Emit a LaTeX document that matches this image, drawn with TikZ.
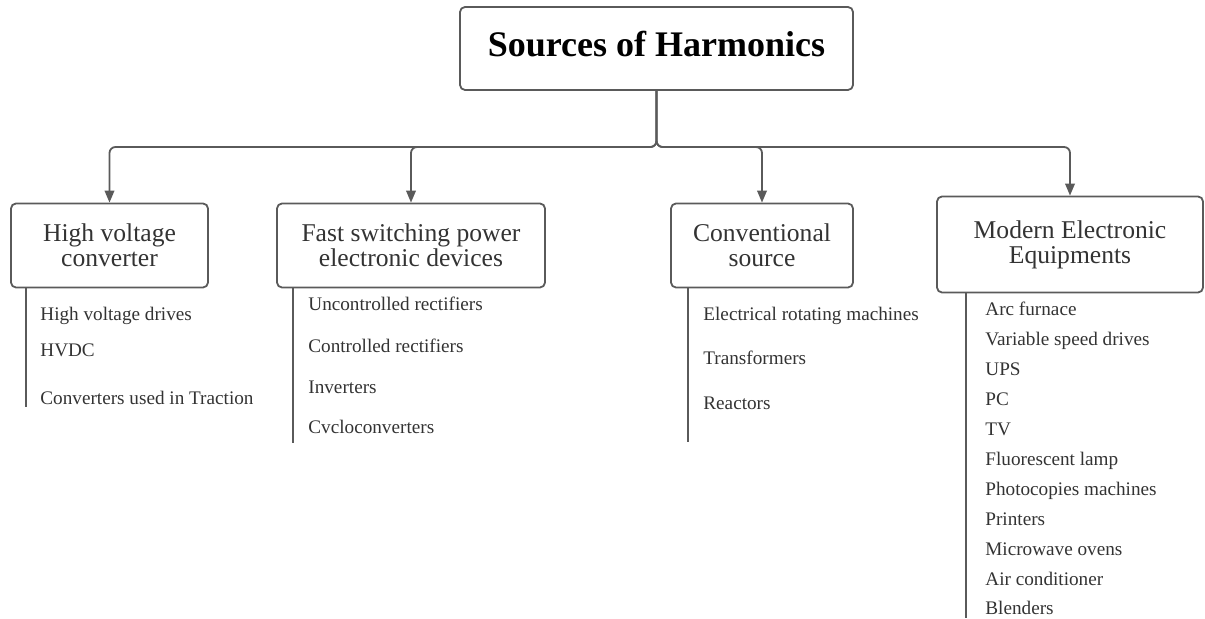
\documentclass[tikz,border=0pt]{standalone}
\usepackage{fontspec}
\setmainfont{Liberation Serif}
\usetikzlibrary{arrows.meta}
\usetikzlibrary{calc}

\definecolor{linegray}{HTML}{5A5A5A}
\definecolor{textgray}{HTML}{333333}

\begin{document}
\begin{tikzpicture}[x=0.5pt, y=-0.5pt, line join=round,
        title_style/.style={draw=linegray, line width=0.9pt, rounded corners=2.5pt, minimum width=196.5pt, minimum height=41.5pt, font=\fontsize{18}{20}\selectfont\bfseries, text=black, text depth=5pt},
        box_style/.style={draw=linegray, line width=0.9pt, rounded corners=2.5pt, align=center, text=textgray, font=\fontsize{12.8}{12.5}\selectfont, inner sep=0pt},
        item_style/.style={anchor=base west, inner sep=0pt, text=textgray, font=\fontsize{9.6}{11}\selectfont},
        edge_style/.style={draw=linegray, line width=0.9pt, rounded corners=3pt, -{Triangle[length=6pt,width=4.8pt]}},
        rail_style/.style={draw=linegray, line width=0.9pt}]

        \useasboundingbox (0,0) rectangle (1205,619);

        \node [title_style](n0) at (656.5,48.5) {Sources of Harmonics};

        \node [box_style, minimum width=98.5pt, minimum height=42pt](n1) at (109.5,245.5) {High voltage\\converter};

        \node [box_style, minimum width=134pt, minimum height=42pt](n2) at (411,245.5) {Fast switching power\\electronic devices};

        \node [box_style, minimum width=91pt, minimum height=42pt](n3) at (762,245.5) {Conventional\\source};

        \node [box_style, minimum width=133pt, minimum height=48pt](n4) at (1070,244.5) {Modern Electronic\\Equipments};

        \coordinate (hub) at (656.5,147);

        \draw [edge_style] (n0.south) -- (hub) -| (n1.north);

        \draw [edge_style] (n0.south) -- (hub) -| (n2.north);

        \draw [edge_style] (n0.south) -- (hub) -| (n3.north);

        \draw [edge_style] (n0.south) -- (hub) -| (n4.north);

        % item rails
        \coordinate (r1) at (26,407);
        \coordinate (r2) at (293,443);
        \coordinate (r3) at (688,442);
        \coordinate (r4) at (966,618);

        \draw [rail_style] (n1.south -| r1) -- (r1);
        \draw [rail_style] (n2.south -| r2) -- (r2);
        \draw [rail_style] (n3.south -| r3) -- (r3);
        \draw [rail_style] (n4.south -| r4) -- (r4);

        % high voltage converter
        \node [item_style](n1a) at (40,321) {High voltage drives};
        \node [item_style](n1b) at (40,357) {HVDC};
        \node [item_style](n1c) at (40,405) {Converters used in Traction};

        % fast switching devices
        \node [item_style](n2a) at (308,311) {Uncontrolled rectifiers};
        \node [item_style](n2b) at (308,353) {Controlled rectifiers};
        \node [item_style](n2c) at (308,394) {Inverters};
        \node [item_style](n2d) at (308,434) {Cvcloconverters};

        % conventional source
        \node [item_style](n3a) at (703,321) {Electrical rotating machines};
        \node [item_style](n3b) at (703,365) {Transformers};
        \node [item_style](n3c) at (703,410) {Reactors};

        % modern electronic equipments
        \node [item_style](n4a) at (985,316) {Arc furnace};
        \node [item_style](n4b) at (985,346) {Variable speed drives};
        \node [item_style](n4c) at (985,376) {UPS};
        \node [item_style](n4d) at (985,406) {PC};
        \node [item_style](n4e) at (985,436) {TV};
        \node [item_style](n4f) at (985,466) {Fluorescent lamp};
        \node [item_style](n4g) at (985,496) {Photocopies machines};
        \node [item_style](n4h) at (985,526) {Printers};
        \node [item_style](n4i) at (985,556) {Microwave ovens};
        \node [item_style](n4j) at (985,586) {Air conditioner};
        \node [item_style](n4k) at (985,615) {Blenders};

        \end{tikzpicture}
\end{document}
